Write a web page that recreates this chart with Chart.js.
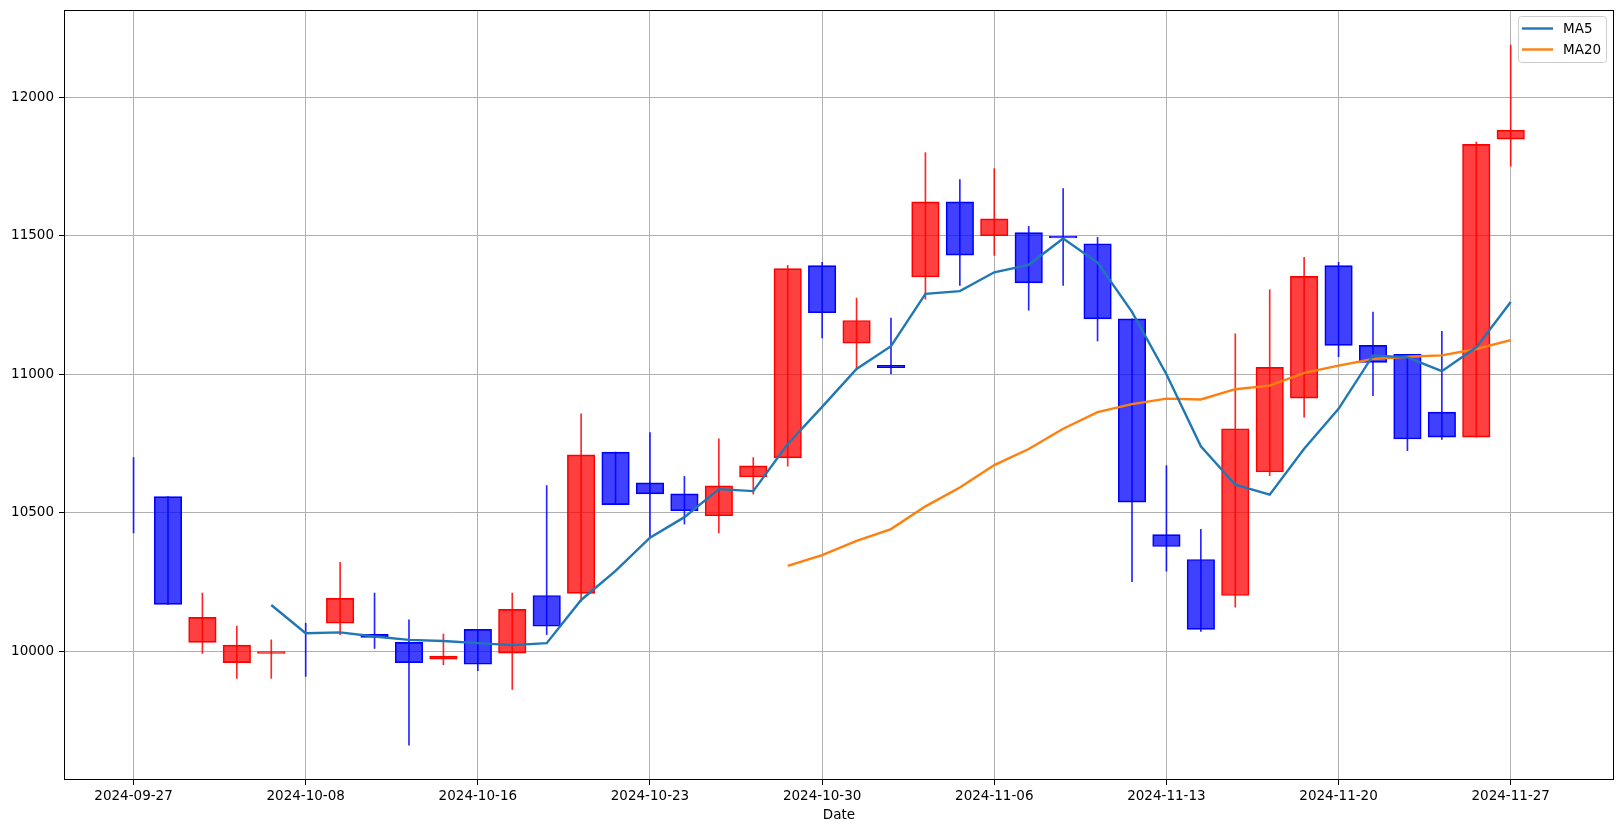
<!DOCTYPE html>
<html lang="en">
<head>
<meta charset="UTF-8">
<title>Candlestick with MA5 / MA20</title>
<script src="https://cdn.jsdelivr.net/npm/chart.js"></script>
<style>
  html, body { margin: 0; padding: 0; background: #fff; }
  #wrap { width: 1623px; height: 833px; }
</style>
</head>
<body>
<div id="wrap"><canvas id="chartCanvas" width="1623" height="833"></canvas></div>
<script>
// trading days (x position = index)
var dates = [
  '2024-09-27', '2024-09-30', '2024-10-02', '2024-10-04', '2024-10-07',
  '2024-10-08', '2024-10-10', '2024-10-11', '2024-10-14', '2024-10-15',
  '2024-10-16', '2024-10-17', '2024-10-18', '2024-10-21', '2024-10-22',
  '2024-10-23', '2024-10-24', '2024-10-25', '2024-10-28', '2024-10-29',
  '2024-10-30', '2024-10-31', '2024-11-01', '2024-11-04', '2024-11-05',
  '2024-11-06', '2024-11-07', '2024-11-08', '2024-11-11', '2024-11-12',
  '2024-11-13', '2024-11-14', '2024-11-15', '2024-11-18', '2024-11-19',
  '2024-11-20', '2024-11-21', '2024-11-22', '2024-11-25', '2024-11-26',
  '2024-11-27'
];

var openPrices = [
  10523, 10558, 10032, 9959, 9992, 10013, 10101, 10061, 10032, 9971,
  10079, 9993, 10201, 10209, 10719, 10608, 10568, 10489, 10629, 10698,
  11392, 11112, 11032, 11351, 11622, 11500, 11511, 11498, 11471, 11200,
  10421, 10331, 10201, 10647, 10914, 11392, 11104, 11072, 10863, 10773,
  11849
];
var highPrices = [
  10699, 10558, 10210, 10091, 10041, 10101, 10321, 10210, 10113, 10062,
  10079, 10210, 10598, 10857, 10719, 10789, 10631, 10767, 10699, 11393,
  11404, 11275, 11203, 11800, 11703, 11742, 11534, 11670, 11494, 11200,
  10670, 10440, 11146, 11305, 11422, 11404, 11224, 11072, 11155, 11838,
  12188
];
var lowPrices = [
  10427, 10169, 9992, 9902, 9902, 9909, 10060, 10010, 9661, 9951,
  9930, 9862, 10060, 10179, 10529, 10412, 10459, 10427, 10567, 10668,
  11131, 11023, 11001, 11271, 11321, 11429, 11231, 11321, 11120, 10251,
  10289, 10071, 10159, 10634, 10845, 11063, 10923, 10724, 10765, 10773,
  11751
];
var closePrices = [
  10523, 10169, 10122, 10022, 9999, 10013, 10191, 10050, 9959, 9982,
  9953, 10151, 10090, 10709, 10529, 10568, 10507, 10597, 10669, 11381,
  11222, 11194, 11024, 11622, 11430, 11561, 11330, 11492, 11200, 10538,
  10378, 10079, 10803, 11025, 11353, 11104, 11043, 10766, 10773, 11830,
  11881
];

var ma5 = [
  null, null, null, null, 10167, 10065, 10068, 10053, 10041, 10037,
  10029, 10022, 10029, 10185, 10290, 10410, 10484, 10585, 10578, 10748,
  10882, 11019, 11101, 11290, 11300, 11368, 11395, 11490, 11403, 11225,
  11000, 10740, 10601, 10565, 10731, 10875, 11068, 11061, 11011, 11097,
  11261
];
var ma20 = [
  null, null, null, null, null, null, null, null, null, null,
  null, null, null, null, null, null, null, null, null, 10308,
  10347, 10398, 10441, 10523, 10591, 10672, 10730, 10803, 10863, 10892,
  10912, 10909, 10946, 10959, 11005, 11031, 11055, 11063, 11068, 11091,
  11123
];

var xTicks = [0, 5, 10, 15, 20, 25, 30, 35, 40];
var yTicks = [10000, 10500, 11000, 11500, 12000];

var FONT = 'DejaVu Sans';

function isUp(i) { return closePrices[i] > openPrices[i]; }
function isFlat(i) { return closePrices[i] === openPrices[i]; }

var bodyData = dates.map(function (d, i) { return { x: i, y: [openPrices[i], closePrices[i]] }; });
var wickData = dates.map(function (d, i) { return { x: i, y: [lowPrices[i], highPrices[i]] }; });
var ma5Data = dates.map(function (d, i) { return { x: i, y: ma5[i] }; });
var ma20Data = dates.map(function (d, i) { return { x: i, y: ma20[i] }; });

// frame around the plot area
var framePlugin = {
  id: 'frame',
  afterDraw: function (chart) {
    var a = chart.chartArea, ctx = chart.ctx;
    ctx.save();
    ctx.strokeStyle = '#000';
    ctx.lineWidth = 1;
    ctx.strokeRect(Math.round(a.left) + 0.5, Math.round(a.top) + 0.5,
      Math.round(a.right - a.left) - 1, Math.round(a.bottom - a.top) - 1);
    ctx.restore();
  }
};

// matplotlib-like legend in the upper right corner
var legendPlugin = {
  id: 'mplLegend',
  afterDraw: function (chart) {
    var ctx = chart.ctx, a = chart.chartArea;
    var w = 88, h = 46;
    var x = a.right - 8 - w, y = a.top + 6;
    ctx.save();
    ctx.beginPath();
    ctx.roundRect(x + 0.5, y + 0.5, w, h, 3);
    ctx.fillStyle = 'rgba(255,255,255,0.8)';
    ctx.fill();
    ctx.strokeStyle = '#cccccc';
    ctx.lineWidth = 1;
    ctx.stroke();
    var items = [['MA5', '#1f77b4'], ['MA20', '#ff7f0e']];
    ctx.font = '13.5px "' + FONT + '"';
    ctx.textBaseline = 'middle';
    ctx.textAlign = 'left';
    items.forEach(function (it, k) {
      var ly = y + 12.5 + k * 21;
      ctx.beginPath();
      ctx.moveTo(x + 4, ly);
      ctx.lineTo(x + 35, ly);
      ctx.strokeStyle = it[1];
      ctx.lineWidth = 2.4;
      ctx.stroke();
      ctx.fillStyle = '#000';
      ctx.fillText(it[0], x + 45, ly + 1);
    });
    ctx.restore();
  }
};

var ctx = document.getElementById('chartCanvas').getContext('2d');
new Chart(ctx, {
  type: 'bar',
  data: {
    datasets: [
      {
        type: 'line',
        label: 'MA5',
        data: ma5Data,
        borderColor: '#1f77b4',
        borderWidth: 2.4,
        pointRadius: 0,
        fill: false,
        tension: 0,
        order: 0
      },
      {
        type: 'line',
        label: 'MA20',
        data: ma20Data,
        borderColor: '#ff7f0e',
        borderWidth: 2.4,
        pointRadius: 0,
        fill: false,
        tension: 0,
        order: 0
      },
      {
        label: 'wick',
        data: wickData,
        barThickness: 1,
        grouped: false,
        borderWidth: 0,
        backgroundColor: dates.map(function (d, i) { return isUp(i) ? 'rgba(255,0,0,0.85)' : 'rgba(0,0,255,0.85)'; }),
        order: 1
      },
      {
        label: 'body',
        data: bodyData,
        barThickness: 27.5,
        grouped: false,
        borderSkipped: false,
        borderWidth: dates.map(function (d, i) { return isFlat(i) ? 0 : 1; }),
        backgroundColor: dates.map(function (d, i) {
          if (isFlat(i)) return 'rgba(0,0,0,0)';
          return isUp(i) ? 'rgba(255,0,0,0.75)' : 'rgba(0,0,255,0.75)';
        }),
        borderColor: dates.map(function (d, i) { return isUp(i) ? '#ff0000' : '#0000ff'; }),
        order: 2
      }
    ]
  },
  options: {
    responsive: false,
    animation: false,
    events: [],
    layout: { padding: { top: 10, right: 9, left: 0, bottom: 0 } },
    plugins: {
      legend: { display: false },
      tooltip: { enabled: false }
    },
    scales: {
      x: {
        type: 'linear',
        min: -2.02,
        max: 43.0,
        offset: false,
        afterFit: function (scale) {
          scale.height = 53;
          scale.paddingLeft = 0;
          scale.paddingRight = 0;
        },
        afterBuildTicks: function (scale) {
          scale.ticks = xTicks.map(function (v) { return { value: v }; });
        },
        ticks: {
          autoSkip: false,
          maxRotation: 0,
          padding: 3,
          color: '#000',
          font: { family: FONT, size: 13.5 },
          callback: function (v) { return dates[v]; }
        },
        grid: { color: '#b0b0b0', lineWidth: 1, tickColor: '#000', tickLength: 5, offset: false },
        border: { display: false },
        title: {
          display: true,
          text: 'Date',
          color: '#000',
          font: { family: FONT, size: 13.5 },
          padding: { top: 0, bottom: 9 }
        }
      },
      y: {
        min: 9535,
        max: 12315,
        afterFit: function (scale) {
          scale.width = 64;
          scale.paddingTop = 0;
          scale.paddingBottom = 0;
        },
        afterBuildTicks: function (scale) {
          scale.ticks = yTicks.map(function (v) { return { value: v }; });
        },
        ticks: {
          padding: 5,
          color: '#000',
          font: { family: FONT, size: 13.5 },
          callback: function (v) { return String(v); }
        },
        grid: { color: '#b0b0b0', lineWidth: 1, tickColor: '#000', tickLength: 5 },
        border: { display: false }
      }
    }
  },
  plugins: [framePlugin, legendPlugin]
});
</script>
</body>
</html>
